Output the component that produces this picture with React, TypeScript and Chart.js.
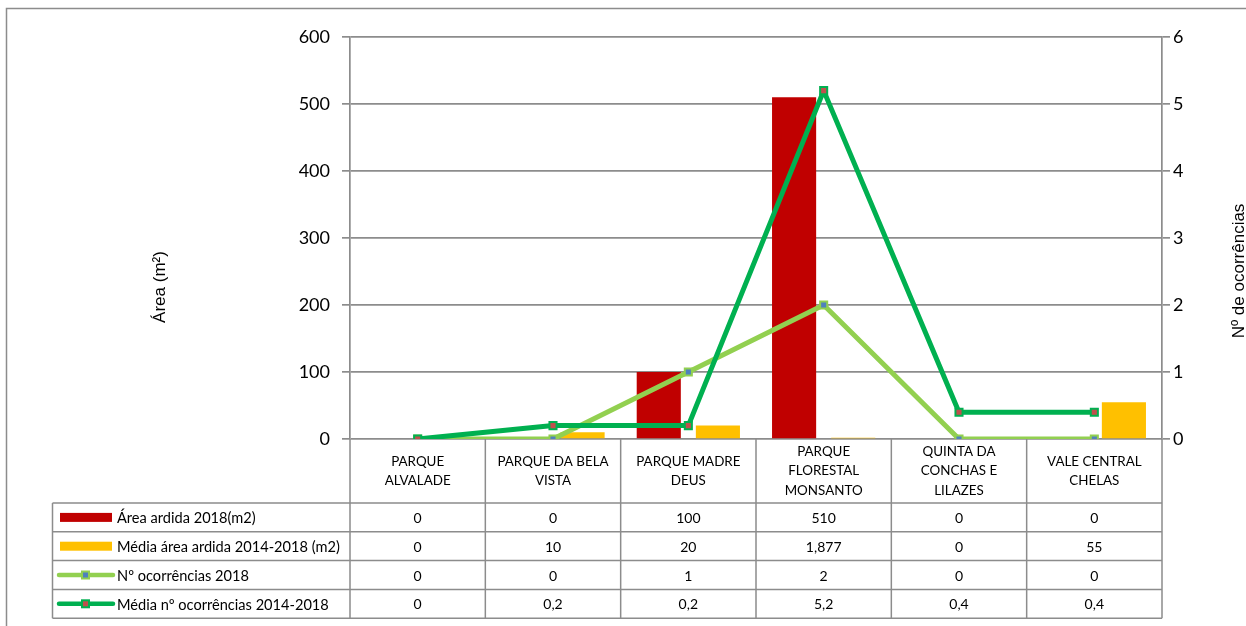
import React, { useEffect, useRef } from "react";
import { Chart, registerables } from "chart.js";

Chart.register(...registerables);

const categories: string[][] = [
  ["PARQUE", "ALVALADE"],
  ["PARQUE DA BELA", "VISTA"],
  ["PARQUE MADRE", "DEUS"],
  ["PARQUE", "FLORESTAL", "MONSANTO"],
  ["QUINTA DA", "CONCHAS E", "LILAZES"],
  ["VALE CENTRAL", "CHELAS"],
];
const areaArdida2018: number[] = [0, 0, 100, 510, 0, 0];
const mediaAreaArdida: number[] = [0, 10, 20, 1.877, 0, 55];
const ocorrencias2018: number[] = [0, 0, 1, 2, 0, 0];
const mediaOcorrencias: number[] = [0, 0.2, 0.2, 5.2, 0.4, 0.4];
const seriesNames: string[] = [
  "Área ardida 2018(m2)",
  "Média área ardida 2014-2018 (m2)",
  "Nº ocorrências 2018",
  "Média nº ocorrências 2014-2018",
];
const leftTicks: number[] = [0, 100, 200, 300, 400, 500, 600];
const rightTicks: number[] = [0, 1, 2, 3, 4, 5, 6];

const RED = "#C00000";
const YELLOW = "#FFC000";
const LGREEN = "#92D050";
const DGREEN = "#00B050";
const BLUE_M = "#4F81BD";
const RED_M = "#C0504D";
const GRID = "#8C8C8C";
const TFONT = "Lato, 'Open Sans', sans-serif";

const fmt = (v: number) => String(v).replace(".", ",");

const tablePlugin = {
  id: "tablePlugin",
  afterDraw(chart: any) {
    const ctx = chart.ctx as CanvasRenderingContext2D;
    const area = chart.chartArea;
    const xs = chart.scales.x;
    const n = categories.length;
    const colW = (area.right - area.left) / n;
    const headerH = 64;
    const rowH = 28.8;
    const top = area.bottom;
    const rowsTop = top + headerH;
    const bottom = rowsTop + rowH * 4;
    const legLeft = 52.5;

    ctx.save();
    // outer frame
    ctx.strokeStyle = "#8C8C8C";
    ctx.lineWidth = 1.5;
    ctx.strokeRect(6.5, 8.5, 1300, 700);

    // table lines
    ctx.strokeStyle = GRID;
    ctx.lineWidth = 1.5;
    ctx.beginPath();
    for (let i = 0; i <= n; i++) {
      const x = area.left + i * colW;
      ctx.moveTo(x, top);
      ctx.lineTo(x, bottom);
    }
    for (let r = 0; r <= 4; r++) {
      const y = rowsTop + r * rowH;
      ctx.moveTo(legLeft, y);
      ctx.lineTo(area.right, y);
    }
    ctx.moveTo(legLeft, rowsTop);
    ctx.lineTo(legLeft, bottom);
    ctx.stroke();

    // header labels
    ctx.fillStyle = "#000";
    ctx.textAlign = "center";
    ctx.textBaseline = "middle";
    ctx.font = `13.4px ${TFONT}`;
    const lh = 19.5;
    categories.forEach((lines, i) => {
      const cx = xs.getPixelForValue(i);
      const cy = top + headerH / 2;
      lines.forEach((ln, k) => {
        ctx.fillText(ln, cx, cy + (k - (lines.length - 1) / 2) * lh);
      });
    });

    // values
    ctx.font = `14px ${TFONT}`;
    const rows = [areaArdida2018, mediaAreaArdida, ocorrencias2018, mediaOcorrencias];
    rows.forEach((vals, r) => {
      const cy = rowsTop + r * rowH + rowH / 2 + 1;
      vals.forEach((v, i) => {
        ctx.fillText(fmt(v), xs.getPixelForValue(i), cy);
      });
    });

    // legend keys
    ctx.textAlign = "left";
    ctx.font = `14.6px ${TFONT}`;
    rows.forEach((_, r) => {
      const cy = rowsTop + r * rowH + rowH / 2;
      if (r < 2) {
        ctx.fillStyle = r === 0 ? RED : YELLOW;
        ctx.fillRect(60, cy - 4.5, 52, 9);
      } else {
        ctx.strokeStyle = r === 2 ? LGREEN : DGREEN;
        ctx.lineWidth = 4.5;
        ctx.lineCap = "round";
        ctx.beginPath();
        ctx.moveTo(59, cy);
        ctx.lineTo(113, cy);
        ctx.stroke();
        ctx.fillStyle = r === 2 ? BLUE_M : RED_M;
        ctx.lineWidth = 2;
        ctx.strokeStyle = r === 2 ? LGREEN : DGREEN;
        ctx.fillRect(82, cy - 3.5, 7, 7);
        ctx.strokeRect(82, cy - 3.5, 7, 7);
      }
      ctx.fillStyle = "#000";
      ctx.fillText(seriesNames[r], 117, cy + 1);
    });

    // axis titles
    ctx.font = "17px 'Liberation Sans', Arial, sans-serif";
    ctx.textAlign = "center";
    ctx.save();
    ctx.translate(160, 287);
    ctx.rotate(-Math.PI / 2);
    ctx.fillText("Área (m²)", 0, 0);
    ctx.restore();
    ctx.save();
    ctx.translate(1239, 271);
    ctx.rotate(-Math.PI / 2);
    ctx.fillText("Nº de ocorrências", 0, 0);
    ctx.restore();
    ctx.restore();
  },
};

export default function App() {
  const ref = useRef<HTMLCanvasElement | null>(null);
  useEffect(() => {
    if (!ref.current) return;
    const chart = new Chart(ref.current, {
      type: "bar",
      data: {
        labels: categories.map((c) => c.join(" ")),
        datasets: [
          {
            type: "bar",
            label: seriesNames[0],
            data: areaArdida2018,
            backgroundColor: RED,
            yAxisID: "y",
            order: 3,
            categoryPercentage: 0.874,
            barPercentage: 0.746,
          },
          {
            type: "bar",
            label: seriesNames[1],
            data: mediaAreaArdida,
            backgroundColor: YELLOW,
            yAxisID: "y",
            order: 4,
            categoryPercentage: 0.874,
            barPercentage: 0.746,
          },
          {
            type: "line",
            label: seriesNames[2],
            data: ocorrencias2018,
            borderColor: LGREEN,
            borderWidth: 5,
            borderJoinStyle: "round",
            pointStyle: "rect",
            pointRadius: 5,
            pointBackgroundColor: BLUE_M,
            pointBorderColor: LGREEN,
            pointBorderWidth: 2,
            tension: 0,
            yAxisID: "y1",
            order: 2,
          },
          {
            type: "line",
            label: seriesNames[3],
            data: mediaOcorrencias,
            borderColor: DGREEN,
            borderWidth: 5,
            borderJoinStyle: "round",
            pointStyle: "rect",
            pointRadius: 5,
            pointBackgroundColor: RED_M,
            pointBorderColor: DGREEN,
            pointBorderWidth: 2,
            tension: 0,
            yAxisID: "y1",
            order: 1,
          },
        ] as any,
      },
      options: {
        animation: false,
        responsive: false,
        maintainAspectRatio: false,
        layout: { padding: { top: 37, bottom: 187, left: 0, right: 0 } },
        plugins: { legend: { display: false }, tooltip: { enabled: false } },
        scales: {
          x: { display: false, offset: true },
          y: {
            position: "left",
            min: 0,
            max: 600,
            afterBuildTicks: (s: any) => {
              s.ticks = leftTicks.map((v) => ({ value: v }));
            },
            afterFit: (s: any) => {
              s.width = 350;
            },
            ticks: {
              font: { family: TFONT, size: 18 },
              color: "#000",
              padding: 12,
            },
            grid: { color: GRID, lineWidth: 1.7, tickLength: 8 },
            border: { color: GRID, width: 1.7 },
          },
          y1: {
            position: "right",
            min: 0,
            max: 6,
            afterBuildTicks: (s: any) => {
              s.ticks = rightTicks.map((v) => ({ value: v }));
            },
            afterFit: (s: any) => {
              s.width = 1246 - 1162;
            },
            ticks: {
              font: { family: TFONT, size: 18 },
              color: "#000",
              padding: 3,
            },
            grid: { color: GRID, lineWidth: 1.7, tickLength: 8, drawOnChartArea: false },
            border: { color: GRID, width: 1.7 },
          },
        },
      },
      plugins: [tablePlugin],
    } as any);
    return () => chart.destroy();
  }, []);
  return (
    <div style={{ position: "absolute", left: 0, top: 0, width: 1246, height: 626, background: "#fff" }}>
      <canvas ref={ref} width={1246} height={626} style={{ display: "block", width: 1246, height: 626 }} />
    </div>
  );
}
